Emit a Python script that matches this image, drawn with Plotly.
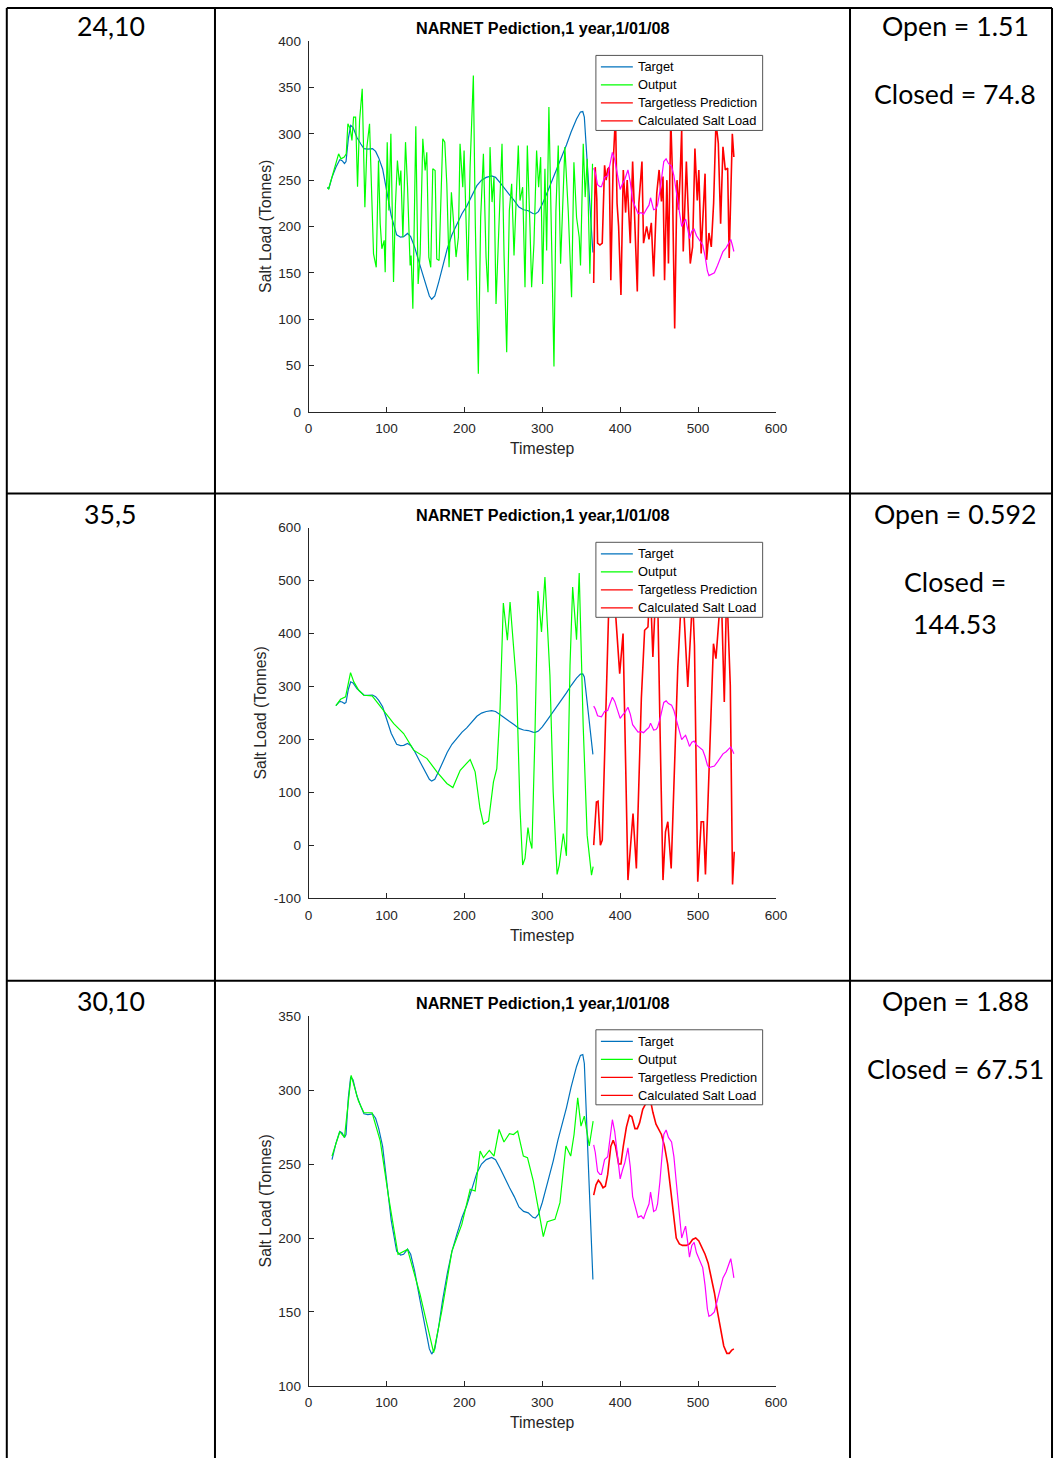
import plotly.graph_objects as go

W, H = 1064, 1466

# ---------------- table text ----------------
row_labels = ["24,10", "35,5", "30,10"]
open_vals = ["1.51", "0.592", "1.88"]
closed_vals = ["74.8", "144.53", "67.51"]
delays = [24, 35, 30]

legend_names = ["Target", "Output", "Targetless Prediction", "Calculated Salt Load"]
legend_colors = ["#0072BD", "#00FF00", "#FF0000", "#FF0000"]

# ---------------- shared series ----------------
target_t = [24, 26, 30, 35, 40, 43, 46, 48, 51, 54, 57, 62, 67, 71, 76, 82, 86, 90, 95, 100,
            106, 113, 118, 122, 127, 131, 136, 143, 150, 155, 158, 162, 167, 172, 178, 184,
            190, 197, 203, 209, 216, 222, 228, 235, 240, 246, 252, 258, 264, 270, 276, 282,
            288, 291, 295, 300, 307, 314, 320, 326, 331, 337, 344, 349, 352, 354, 357, 361, 365]
target_v = [242, 241, 253, 264, 272, 271, 268, 270, 295, 309, 307, 296, 289, 284, 283.5, 284,
            281, 274, 262, 238, 212, 191, 188.5, 189, 192.5, 189, 178, 158, 139, 125, 121.5,
            125, 140, 158, 176, 191, 202, 214, 222, 232, 244, 250, 253, 254.5, 253, 247, 240,
            234, 228, 221, 218, 217, 214, 213.5, 216, 224, 238, 252, 266, 278, 288, 302, 316,
            323.5, 324, 318, 280, 225, 172]

calc_t = [366, 368, 371, 374, 376, 380, 384, 387, 390, 393, 396, 400, 403, 406, 410, 413, 416,
          420, 423, 427, 430, 434, 437, 439, 441, 443, 446, 448, 451, 454, 456, 459, 462, 466,
          469, 472, 476, 479, 482, 484, 487, 489, 492, 495, 498, 502, 506, 509, 512, 514, 517,
          521, 525, 528, 532, 536, 540, 542, 544, 546]
calc_v = [263, 258, 245, 243, 243, 253, 255, 268, 280, 272, 258, 240, 246, 251, 261, 248, 228,
          220, 214, 215, 213, 219, 223, 231, 225, 218, 219, 223, 238, 258, 270, 273, 268, 265,
          255, 238, 215, 200, 205, 208, 196, 187, 195, 197, 190, 185, 180, 168, 152, 147, 148,
          150, 158, 165, 173, 177, 184, 186, 180, 173]

# ---------------- chart 1 (24,10) ----------------
out1_t = [24, 25.6, 38.5, 41.5, 45.7, 48.3, 50.4, 53.4, 55.6, 57.7, 60.3, 62.8, 65.4, 68.8, 72.2,
          74.8, 78.2, 81.2, 83.3, 86.8, 89.7, 91.9, 94, 97, 98.3, 100.9, 103, 105.6, 109, 111.5,
          114, 116.7, 118.4, 121, 124.4, 127, 130.3, 131.6, 133.8, 137.6, 140.6, 143.2, 146.6,
          149.6, 151.7, 154.3, 156.8, 159.4, 162.4, 164.5, 167.5, 172.2, 174.8, 177.4, 180.3,
          183.3, 186.8, 189.3, 192.3, 194.4, 197.9, 199.6, 204.3, 207.3, 211.5, 214, 217.9,
          220.9, 224.4, 227.8, 230.3, 232.9, 235.5, 238, 240.6, 244.9, 248.3, 250.9, 254.3,
          257.7, 260.7, 263.7, 267.1, 269.2, 271.4, 274.8, 277.8, 280.8, 284.2, 286.3, 289.3,
          292.7, 295.3, 297.9, 300.4, 303.4, 305.6, 308.5, 312, 315, 317.5, 320.5, 323.5, 326,
          329, 333.3, 337.6, 340.6, 344, 347.4, 349.1, 352.6, 355.1, 357.7, 361.1, 364.5]
out1_v = [241.7, 240.6, 278.4, 273, 274.8, 278.4, 310.8, 305.4, 292.8, 318, 318, 243, 314.4,
          348.6, 220.9, 285.6, 310.8, 231.7, 170.5, 156, 271.2, 202.9, 176, 185, 150.7, 291,
          217.3, 300, 140, 224.5, 271.2, 244.2, 260.4, 188.5, 291, 242.4, 158, 168.7, 111.2,
          308, 138, 170.5, 294.6, 260.4, 280, 167, 156, 262.2, 260.4, 165, 163.3, 294.6, 291,
          246, 156, 237, 199.3, 167, 188.5, 289.2, 242.4, 282, 141.7, 264, 363, 202.9, 41,
          210, 278.4, 167, 129, 285.6, 226.3, 253.2, 116.5, 217.3, 289.2, 168.7, 64.4, 217.3,
          246, 168.7, 247.8, 287.4, 228, 242.4, 134.5, 287.4, 199.3, 134.5, 181.3, 282, 242.4,
          274.8, 138, 262.2, 174, 328.8, 181.3, 49, 217.3, 287.4, 159.7, 220.9, 285.6, 217.3,
          123.7, 269.4, 210, 188.5, 158, 289.2, 231.7, 273, 149, 267.6]
pred1_t = [366, 368, 370, 371, 374, 377, 380, 382, 384, 386, 388, 391, 394, 396, 398, 401, 404,
           407, 409, 411, 413, 416, 418, 422, 424, 428, 430, 434, 437, 440, 443, 447, 450, 453,
           455, 457, 460, 462, 465, 467, 468, 470, 473, 475, 477, 479, 481, 483, 485, 487, 490,
           493, 496, 499, 501, 504, 507, 509, 511, 514, 517, 520, 523, 526, 529, 532, 535, 538,
           540, 544, 546]
pred1_v = [139, 264, 230, 182, 180, 182, 266, 250, 262, 264, 142, 268, 320, 225, 200, 126, 261,
           215, 250, 206, 182, 270, 222, 130, 225, 270, 182, 200, 186, 204, 146, 236, 261, 227,
           254, 142, 250, 160, 315, 261, 196, 90, 250, 218, 255, 305, 173, 218, 270, 225, 160,
           178, 284, 228, 261, 171, 222, 257, 164, 193, 178, 225, 312, 290, 203, 286, 261, 263,
           166, 300, 275]

# ---------------- chart 2 (35,5) ----------------
out2_t = [35, 41, 47.4, 53.8, 58, 64.4, 70.8, 81.5, 94.3, 109.3, 122, 134.9, 152, 164.7, 177.5,
          185.2, 194.6, 207.4, 213.8, 220, 224.5, 231, 237.3, 241.6, 245.8, 250, 255.2, 258.6,
          267, 271.4, 274.8, 277.8, 281.6, 284, 286.7, 290.6, 294.4, 299, 303.4, 309.8, 314,
          319, 321.8, 327, 331, 335.6, 339, 344, 347.4, 352.5, 357.6, 363.2, 365.3]
out2_v = [264, 276, 280.5, 326.4, 308.8, 293, 283.6, 282.4, 258.5, 230, 211.3, 180, 164, 139,
          117, 109.4, 142, 162.3, 139, 69.8, 40.3, 46, 120, 145, 258.5, 457.9, 387.4, 459.7,
          302.5, 69.8, -37, -24.5, 34, 10, -5.7, 208, 480.5, 403, 507, 321.4, 101, -54.7, -37,
          22.6, -19.5, 340, 488, 388.7, 514.5, 227, 19.5, -56, -40]
pred2_t = [366, 369.5, 371.6, 374.6, 377, 381.5, 385.3, 390, 394, 399.4, 403.7, 410, 413.5,
           416.5, 420.8, 427.2, 431.4, 435.7, 438.5, 442, 446, 448.5, 451.5, 455, 458.2, 461.2,
           465.5, 474, 479, 482, 486.8, 491, 493, 495.4, 499.6, 504, 507, 509.5, 516.8, 519.8,
           523, 527.3, 530, 533.7, 536.5, 538, 541.4, 544.3, 546.5]
pred2_v = [0.6, 82, 83.6, 0.6, 10, 258.5, 447, 480, 440, 324.5, 400, -65.4, 13.2, 60.4, -43.4,
           277.4, 406.3, 412.6, 500, 356, 490, 440.9, 195.6, -65.4, 25.8, 44.7, -43.4, 337, 480,
           437.7, 299.4, 431.4, 470, 378, -68.6, 44.7, 44.7, -54.7, 252, 381, 352.8, 437.7, 470,
           271, 470, 440.9, 302.5, -73.6, -12]

# ---------------- chart 3 (30,10) ----------------
out3_t = [30, 40, 46, 54.6, 64, 71, 81.5, 92, 102.8, 114.8, 127, 143, 160.5, 171, 184, 196.7,
          207.4, 213.8, 220.2, 224.5, 232, 238, 244.5, 250.8, 257.8, 263, 268.4, 275.7, 281,
          288.5, 294.7, 301.3, 306.4, 316.3, 322.7, 327, 330.3, 336.5, 340.8, 345.5, 349.7, 354,
          360.3, 365.3]
out3_v = [255.4, 272, 268, 310, 292.6, 284.7, 284.7, 265.5, 227.3, 189, 192.3, 162, 122.5,
          150.7, 191.2, 209.2, 232.9, 231.8, 258.8, 254.3, 259.2, 255.4, 273.4, 264.9, 270.5,
          270, 272.3, 255.4, 254.3, 238.5, 220.5, 200.9, 211, 212.6, 223.9, 247.5, 262.2, 255.4,
          270, 294.8, 275.7, 282.4, 262.2, 279]
pred3_t = [366, 369, 372, 375, 378, 381, 384, 388, 391, 394, 398, 401, 404, 408, 412, 415, 419,
           422, 425, 429, 433, 436, 439, 442, 446, 450, 453, 457, 461, 465, 469, 472, 476, 480,
           485, 489, 493, 497, 501, 505, 509, 513, 517, 521, 525, 529, 533, 537, 540, 543, 546]
pred3_v = [229, 236, 239, 237, 234, 235, 243, 262, 266, 262, 250, 250, 262, 275, 283, 282, 274,
           274, 278, 287, 291, 297, 293, 285, 277, 273, 270, 262, 250, 232, 212, 200, 196, 195,
           195, 196, 199, 200, 198, 194, 189, 183, 174, 163, 150, 137, 127, 122, 122, 124, 125]

outputs = [(out1_t, out1_v), (out2_t, out2_v), (out3_t, out3_v)]
preds = [(pred1_t, pred1_v), (pred2_t, pred2_v), (pred3_t, pred3_v)]
y_ranges = [[0, 400], [-100, 600], [100, 350]]
y_tickvals = [[0, 50, 100, 150, 200, 250, 300, 350, 400],
              [-100, 0, 100, 200, 300, 400, 500, 600],
              [100, 150, 200, 250, 300, 350]]
y_ticktext = [["0", "50", "100", "150", "200", "250", "300", "350", "400"],
              ["-100", "0", "100", "200", "300", "400", "500", "600"],
              ["100", "150", "200", "250", "300", "350"]]
x_tickvals = [0, 100, 200, 300, 400, 500, 600]
x_range = [0, 600]

title_text = "NARNET Pediction,1 year,1/01/08"

# ---------------- layout geometry (target pixels in the final picture) ----------------
ax_left, ax_right = 308.3, 776.3
ax_tops = [40.7, 527.1, 1015.4]
ax_bots = [411.3, 897.7, 1385.0]
legend_tops = [55, 541.7, 1029]
legend_x0, legend_x1 = 596, 763
ylab_x = [265, 260, 265]

# the photographed page comes out slightly reduced and offset; place things so that
# they land on the intended pixels of the final picture
SX, OX = 0.9874, 3.2
SY, OY = 0.9894, 6.6
FS = 1 / ((SX + SY) / 2)


def fx(x):
    return min(max((x - OX) / SX, 1.0), W - 1.0)


def fy(y):
    return min(max((y - OY) / SY, 1.0), H + 10)


def px(x):
    return fx(x) / W


def py(y):
    return 1 - fy(y) / H


AX_COL = "#262626"
SANS = "Liberation Sans, Arial, Helvetica, sans-serif"
TICK_FONT = dict(family=SANS, size=13.4 * FS, color=AX_COL)

fig = go.Figure()
layout_updates = {}
annotations = []
shapes = []

for i in range(3):
    k = "" if i == 0 else str(i + 1)
    xa, ya = "x" + k, "y" + k
    d = delays[i]
    tt = [t for t in target_t if t >= d]
    tv = [v for t, v in zip(target_t, target_v) if t >= d]
    fig.add_trace(go.Scatter(x=tt, y=tv, mode="lines", name="Target",
                             line=dict(color="#0072BD", width=1.2),
                             xaxis=xa, yaxis=ya, showlegend=False))
    fig.add_trace(go.Scatter(x=outputs[i][0], y=outputs[i][1], mode="lines", name="Output",
                             line=dict(color="#00FF00", width=1.2),
                             xaxis=xa, yaxis=ya, showlegend=False))
    fig.add_trace(go.Scatter(x=preds[i][0], y=preds[i][1], mode="lines",
                             name="Targetless Prediction",
                             line=dict(color="#FF0000", width=1.6),
                             xaxis=xa, yaxis=ya, showlegend=False))
    fig.add_trace(go.Scatter(x=calc_t, y=calc_v, mode="lines", name="Calculated Salt Load",
                             line=dict(color="#FF00FF", width=1.2),
                             xaxis=xa, yaxis=ya, showlegend=False))

    layout_updates["xaxis" + k] = dict(
        domain=[px(ax_left), px(ax_right)], anchor=ya, range=x_range,
        tickmode="array", tickvals=x_tickvals, ticktext=[str(v) for v in x_tickvals],
        showline=True, linecolor=AX_COL, linewidth=1, ticks="inside", ticklen=5,
        tickcolor=AX_COL, showgrid=False, zeroline=False, tickfont=TICK_FONT,
        ticklabelstandoff=4, fixedrange=True)
    layout_updates["yaxis" + k] = dict(
        domain=[py(ax_bots[i]), py(ax_tops[i])], anchor=xa, range=y_ranges[i],
        tickmode="array", tickvals=y_tickvals[i], ticktext=y_ticktext[i],
        showline=True, linecolor=AX_COL, linewidth=1,
        ticks="inside", ticklen=5, tickcolor=AX_COL, showgrid=False, zeroline=False,
        tickfont=TICK_FONT, ticklabelstandoff=4, fixedrange=True)

    annotations.append(dict(text="<b>" + title_text + "</b>", xref="paper", yref="paper",
                            x=px((ax_left + ax_right) / 2), y=py(ax_tops[i] - 13),
                            xanchor="center", yanchor="middle", showarrow=False,
                            font=dict(family=SANS, size=16 * FS, color="#000000")))
    annotations.append(dict(text="Timestep", xref="paper", yref="paper",
                            x=px((ax_left + ax_right) / 2), y=py(ax_bots[i] + 37),
                            xanchor="center", yanchor="middle", showarrow=False,
                            font=dict(family=SANS, size=15.6 * FS, color=AX_COL)))
    annotations.append(dict(text="Salt Load (Tonnes)", xref="paper", yref="paper",
                            x=px(ylab_x[i]), y=py((ax_tops[i] + ax_bots[i]) / 2),
                            xanchor="center", yanchor="middle", showarrow=False, textangle=-90,
                            font=dict(family=SANS, size=15.7 * FS, color=AX_COL)))

    top = legend_tops[i]
    shapes.append(dict(type="rect", xref="paper", yref="paper", layer="above",
                       x0=px(legend_x0), x1=px(legend_x1), y0=py(top), y1=py(top + 75),
                       fillcolor="white", line=dict(color="#555555", width=1)))
    for j, (nm, col) in enumerate(zip(legend_names, legend_colors)):
        yy = top + 11.5 + 18 * j
        shapes.append(dict(type="line", xref="paper", yref="paper", layer="above",
                           x0=px(legend_x0 + 5), x1=px(legend_x0 + 37), y0=py(yy), y1=py(yy),
                           line=dict(color=col, width=1.2)))
        annotations.append(dict(text=nm, xref="paper", yref="paper",
                                x=px(legend_x0 + 40.5), y=py(yy), xanchor="left",
                                yanchor="middle", showarrow=False,
                                font=dict(family=SANS, size=12.7 * FS, color="#000000")))

row_tops = [6, 493, 980]
CELL_FONT = dict(family="Lato, Noto Sans, sans-serif", size=26.4 * FS, color="#000000")
for i in range(3):
    r = row_tops[i]
    annotations.append(dict(text=row_labels[i], xref="paper", yref="paper", x=px(110),
                            y=py(r + 20), xanchor="center", yanchor="middle",
                            showarrow=False, font=CELL_FONT))
    annotations.append(dict(text="Open = " + open_vals[i], xref="paper", yref="paper",
                            x=px(956), y=py(r + 20), xanchor="center", yanchor="middle",
                            showarrow=False, font=CELL_FONT))
    if i == 1:
        annotations.append(dict(text="Closed =", xref="paper", yref="paper", x=px(956),
                                y=py(r + 88), xanchor="center", yanchor="middle",
                                showarrow=False, font=CELL_FONT))
        annotations.append(dict(text=closed_vals[i], xref="paper", yref="paper", x=px(956),
                                y=py(r + 130), xanchor="center", yanchor="middle",
                                showarrow=False, font=CELL_FONT))
    else:
        annotations.append(dict(text="Closed = " + closed_vals[i], xref="paper", yref="paper",
                                x=px(956), y=py(r + 88), xanchor="center", yanchor="middle",
                                showarrow=False, font=CELL_FONT))

LINE = dict(color="#000000", width=2)
for xv in [6, 214.5, 850.5, 1062]:
    shapes.append(dict(type="line", xref="paper", yref="paper", x0=px(xv), x1=px(xv),
                       y0=py(6.5), y1=0, line=LINE))
for yv in [6.5, 493, 980]:
    shapes.append(dict(type="line", xref="paper", yref="paper", x0=px(6), x1=px(1062),
                       y0=py(yv), y1=py(yv), line=LINE))

fig.update_layout(width=W, height=H, margin=dict(l=0, r=0, t=0, b=0),
                  paper_bgcolor="white", plot_bgcolor="white", showlegend=False,
                  annotations=annotations, shapes=shapes, **layout_updates)

fig.write_html("out.html", config={"displayModeBar": False, "staticPlot": True},
               post_script="document.documentElement.style.margin='0';"
                           "document.documentElement.style.overflow='hidden';"
                           "document.body.style.margin='0';"
                           "document.body.style.overflow='hidden';")
